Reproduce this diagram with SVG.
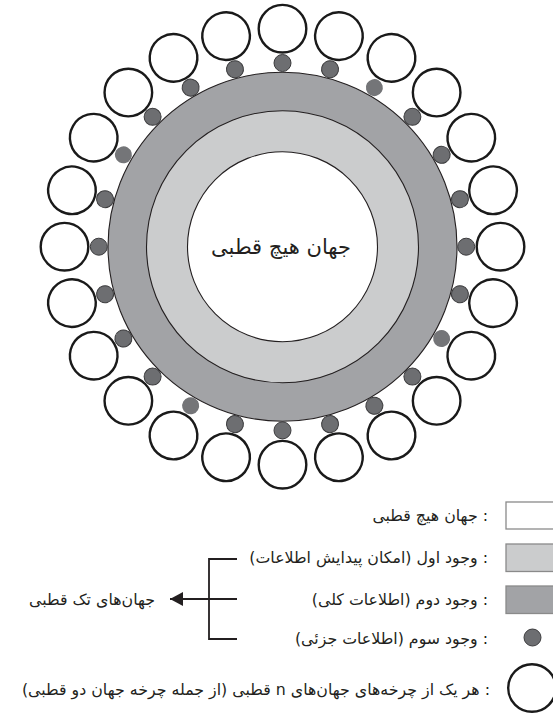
<svg xmlns="http://www.w3.org/2000/svg" width="553" height="716" viewBox="0 0 553 716">
<style>
  .ring { stroke: #231f20; stroke-width: 1.1; }
  .dark { fill: #a2a3a6; }
  .light { fill: #cbcccd; }
  .white { fill: #ffffff; }
  .cyc { fill: #ffffff; stroke: #1a1a1a; stroke-width: 2.4; }
  .dot { fill: #6d6e71; stroke: #3b3b3d; stroke-width: 1; }
  .dot2 { fill: #747578; stroke: none; }
  .box { stroke: #8a8a8a; stroke-width: 1.3; }
  .txt { font-family: "DejaVu Sans", "Noto Sans", sans-serif; fill: #231f20; }
  .leg { font-size: 15.8px; }
  .line { stroke: #231f20; stroke-width: 1.8; fill: none; }
</style>
<defs>
  <marker id="arrow" viewBox="0 0 13 14" refX="13" refY="7" markerWidth="13" markerHeight="14" markerUnits="userSpaceOnUse" orient="auto">
    <path d="M0,0 L13,7 L0,14 Z" fill="#231f20"/>
  </marker>
</defs>
<rect width="553" height="716" fill="#ffffff"/>

<g id="rings">
  <circle id="second-existence" class="ring dark" cx="282.5" cy="246.7" r="174.5"/>
  <circle id="first-existence" class="ring light" cx="282.5" cy="246.7" r="136"/>
  <g id="zero-polar-world">
    <circle class="ring white" cx="282.5" cy="246.7" r="95"/>
    <text class="txt" x="281" y="254" font-size="21" text-anchor="middle" direction="rtl">جهان هیچ قطبی</text>
  </g>
</g>

<g id="dots">
  <g id="dot-0" transform="rotate(0 282.5 246.7)"><circle class="dot" cx="282.5" cy="63" r="8.5"/></g>
  <g id="dot-15" transform="rotate(15 282.5 246.7)"><circle class="dot" cx="282.5" cy="63" r="8.5"/></g>
  <g id="dot-30" transform="rotate(30 282.5 246.7)"><circle class="dot2" cx="282.5" cy="63" r="8.5"/></g>
  <g id="dot-45" transform="rotate(45 282.5 246.7)"><circle class="dot" cx="282.5" cy="63" r="8.5"/></g>
  <g id="dot-60" transform="rotate(60 282.5 246.7)"><circle class="dot" cx="282.5" cy="63" r="8.5"/></g>
  <g id="dot-75" transform="rotate(75 282.5 246.7)"><circle class="dot" cx="282.5" cy="63" r="8.5"/></g>
  <g id="dot-90" transform="rotate(90 282.5 246.7)"><circle class="dot" cx="282.5" cy="63" r="8.5"/></g>
  <g id="dot-105" transform="rotate(105 282.5 246.7)"><circle class="dot" cx="282.5" cy="63" r="8.5"/></g>
  <g id="dot-120" transform="rotate(120 282.5 246.7)"><circle class="dot2" cx="282.5" cy="63" r="8.5"/></g>
  <g id="dot-135" transform="rotate(135 282.5 246.7)"><circle class="dot" cx="282.5" cy="63" r="8.5"/></g>
  <g id="dot-150" transform="rotate(150 282.5 246.7)"><circle class="dot" cx="282.5" cy="63" r="8.5"/></g>
  <g id="dot-165" transform="rotate(165 282.5 246.7)"><circle class="dot" cx="282.5" cy="63" r="8.5"/></g>
  <g id="dot-180" transform="rotate(180 282.5 246.7)"><circle class="dot" cx="282.5" cy="63" r="8.5"/></g>
  <g id="dot-195" transform="rotate(195 282.5 246.7)"><circle class="dot" cx="282.5" cy="63" r="8.5"/></g>
  <g id="dot-210" transform="rotate(210 282.5 246.7)"><circle class="dot2" cx="282.5" cy="63" r="8.5"/></g>
  <g id="dot-225" transform="rotate(225 282.5 246.7)"><circle class="dot" cx="282.5" cy="63" r="8.5"/></g>
  <g id="dot-240" transform="rotate(240 282.5 246.7)"><circle class="dot" cx="282.5" cy="63" r="8.5"/></g>
  <g id="dot-255" transform="rotate(255 282.5 246.7)"><circle class="dot" cx="282.5" cy="63" r="8.5"/></g>
  <g id="dot-270" transform="rotate(270 282.5 246.7)"><circle class="dot" cx="282.5" cy="63" r="8.5"/></g>
  <g id="dot-285" transform="rotate(285 282.5 246.7)"><circle class="dot" cx="282.5" cy="63" r="8.5"/></g>
  <g id="dot-300" transform="rotate(300 282.5 246.7)"><circle class="dot2" cx="282.5" cy="63" r="8.5"/></g>
  <g id="dot-315" transform="rotate(315 282.5 246.7)"><circle class="dot" cx="282.5" cy="63" r="8.5"/></g>
  <g id="dot-330" transform="rotate(330 282.5 246.7)"><circle class="dot" cx="282.5" cy="63" r="8.5"/></g>
  <g id="dot-345" transform="rotate(345 282.5 246.7)"><circle class="dot" cx="282.5" cy="63" r="8.5"/></g>
</g>

<g id="cycles">
  <g id="cycle-0" transform="rotate(0 282.5 246.7)"><circle class="cyc" cx="282.5" cy="28.7" r="23.8"/></g>
  <g id="cycle-15" transform="rotate(15 282.5 246.7)"><circle class="cyc" cx="282.5" cy="28.7" r="23.8"/></g>
  <g id="cycle-30" transform="rotate(30 282.5 246.7)"><circle class="cyc" cx="282.5" cy="28.7" r="23.8"/></g>
  <g id="cycle-45" transform="rotate(45 282.5 246.7)"><circle class="cyc" cx="282.5" cy="28.7" r="23.8"/></g>
  <g id="cycle-60" transform="rotate(60 282.5 246.7)"><circle class="cyc" cx="282.5" cy="28.7" r="23.8"/></g>
  <g id="cycle-75" transform="rotate(75 282.5 246.7)"><circle class="cyc" cx="282.5" cy="28.7" r="23.8"/></g>
  <g id="cycle-90" transform="rotate(90 282.5 246.7)"><circle class="cyc" cx="282.5" cy="28.7" r="23.8"/></g>
  <g id="cycle-105" transform="rotate(105 282.5 246.7)"><circle class="cyc" cx="282.5" cy="28.7" r="23.8"/></g>
  <g id="cycle-120" transform="rotate(120 282.5 246.7)"><circle class="cyc" cx="282.5" cy="28.7" r="23.8"/></g>
  <g id="cycle-135" transform="rotate(135 282.5 246.7)"><circle class="cyc" cx="282.5" cy="28.7" r="23.8"/></g>
  <g id="cycle-150" transform="rotate(150 282.5 246.7)"><circle class="cyc" cx="282.5" cy="28.7" r="23.8"/></g>
  <g id="cycle-165" transform="rotate(165 282.5 246.7)"><circle class="cyc" cx="282.5" cy="28.7" r="23.8"/></g>
  <g id="cycle-180" transform="rotate(180 282.5 246.7)"><circle class="cyc" cx="282.5" cy="28.7" r="23.8"/></g>
  <g id="cycle-195" transform="rotate(195 282.5 246.7)"><circle class="cyc" cx="282.5" cy="28.7" r="23.8"/></g>
  <g id="cycle-210" transform="rotate(210 282.5 246.7)"><circle class="cyc" cx="282.5" cy="28.7" r="23.8"/></g>
  <g id="cycle-225" transform="rotate(225 282.5 246.7)"><circle class="cyc" cx="282.5" cy="28.7" r="23.8"/></g>
  <g id="cycle-240" transform="rotate(240 282.5 246.7)"><circle class="cyc" cx="282.5" cy="28.7" r="23.8"/></g>
  <g id="cycle-255" transform="rotate(255 282.5 246.7)"><circle class="cyc" cx="282.5" cy="28.7" r="23.8"/></g>
  <g id="cycle-270" transform="rotate(270 282.5 246.7)"><circle class="cyc" cx="282.5" cy="28.7" r="23.8"/></g>
  <g id="cycle-285" transform="rotate(285 282.5 246.7)"><circle class="cyc" cx="282.5" cy="28.7" r="23.8"/></g>
  <g id="cycle-300" transform="rotate(300 282.5 246.7)"><circle class="cyc" cx="282.5" cy="28.7" r="23.8"/></g>
  <g id="cycle-315" transform="rotate(315 282.5 246.7)"><circle class="cyc" cx="282.5" cy="28.7" r="23.8"/></g>
  <g id="cycle-330" transform="rotate(330 282.5 246.7)"><circle class="cyc" cx="282.5" cy="28.7" r="23.8"/></g>
  <g id="cycle-345" transform="rotate(345 282.5 246.7)"><circle class="cyc" cx="282.5" cy="28.7" r="23.8"/></g>
</g>

<g id="legend">
  <g id="legend-zero">
    <rect class="box white" x="506" y="502" width="60" height="27"/>
    <text class="txt leg" x="488" y="521" direction="rtl" text-anchor="start">: جهان هیچ قطبی</text>
  </g>
  <g id="legend-first">
    <rect class="box light" x="506" y="544" width="60" height="27.5"/>
    <text class="txt leg" x="488" y="563" direction="rtl" text-anchor="start">: وجود اول (امکان پیدایش اطلاعات)</text>
  </g>
  <g id="legend-second">
    <rect class="box dark" x="506" y="586" width="60" height="27.5"/>
    <text class="txt leg" x="488" y="605" direction="rtl" text-anchor="start">: وجود دوم (اطلاعات کلی)</text>
  </g>
  <g id="legend-third">
    <circle class="dot" cx="532.5" cy="637.5" r="8.5"/>
    <text class="txt leg" x="488" y="644" direction="rtl" text-anchor="start">: وجود سوم (اطلاعات جزئی)</text>
  </g>
  <g id="legend-cycle">
    <circle class="cyc" cx="532" cy="688" r="23.8"/>
    <text class="txt leg" x="490" y="695" direction="rtl" text-anchor="start">: هر یک از چرخه‌های جهان‌های n قطبی (از جمله چرخه جهان دو قطبی)</text>
  </g>
  <g id="single-polar">
    <text class="txt leg" x="155" y="605" direction="rtl" text-anchor="start">جهان‌های تک قطبی</text>
  </g>
</g>

<g id="connectors">
  <path class="line" d="M237,559 H209 V639 H237"/>
  <path class="line" d="M237,599 H170" marker-end="url(#arrow)"/>
</g>
</svg>
